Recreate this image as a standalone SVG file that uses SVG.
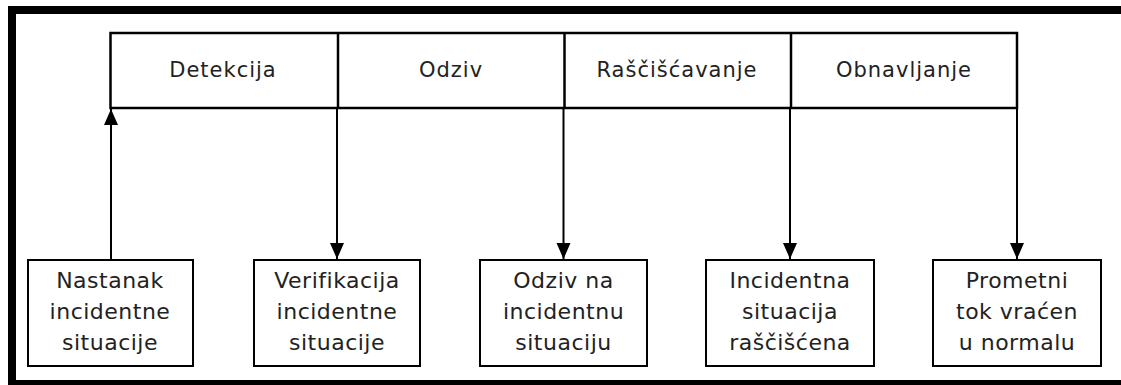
<svg xmlns="http://www.w3.org/2000/svg" width="1121" height="385" viewBox="0 0 1121 385">
  <style>
    .frame { fill: none; stroke: #000; stroke-width: 8; }
    .phase { fill: none; stroke: #000; stroke-width: 2.5; }
    .box { fill: #fff; stroke: #000; stroke-width: 2; }
    .link { fill: none; stroke: #000; stroke-width: 2; }
    text { font-family: "DejaVu Sans", Verdana, sans-serif; fill: #222; text-anchor: middle; }
    .lbl { font-size: 21px; letter-spacing: 1px; }
    .txt { font-size: 22px; letter-spacing: 0.5px; }
  </style>
  <defs>
    <marker id="arrow" viewBox="0 0 16 16" refX="16" refY="8" markerWidth="16" markerHeight="16" markerUnits="userSpaceOnUse" orient="auto">
      <path d="M0,1 L16,8 L0,15 Z" fill="#000"/>
    </marker>
  </defs>

  <rect width="1121" height="385" fill="#fff"/>
  <!-- outer frame: top, left and bottom edges -->
  <path class="frame" d="M1125,10 H12 V384 H1125"/>

  <!-- phase strip -->
  <g id="phases">
    <rect class="phase" x="110.5" y="33" width="906.5" height="75"/>
    <line class="phase" x1="338" y1="33" x2="338" y2="108"/>
    <line class="phase" x1="564.5" y1="33" x2="564.5" y2="108"/>
    <line class="phase" x1="791" y1="33" x2="791" y2="108"/>
    <text class="lbl" x="223" y="77">Detekcija</text>
    <text class="lbl" x="451" y="77">Odziv</text>
    <text class="lbl" x="677" y="77">Raščišćavanje</text>
    <text class="lbl" x="904" y="77">Obnavljanje</text>
  </g>

  <!-- connectors -->
  <g id="connectors">
    <line class="link" x1="111" y1="259" x2="111" y2="109" marker-end="url(#arrow)"/>
    <line class="link" x1="337" y1="109" x2="337" y2="259" marker-end="url(#arrow)"/>
    <line class="link" x1="563.5" y1="109" x2="563.5" y2="259" marker-end="url(#arrow)"/>
    <line class="link" x1="790" y1="109" x2="790" y2="259" marker-end="url(#arrow)"/>
    <line class="link" x1="1017" y1="109" x2="1017" y2="259" marker-end="url(#arrow)"/>
  </g>

  <!-- events -->
  <g id="event-nastanak">
    <rect class="box" x="28" y="260" width="165" height="106"/>
    <text class="txt" x="110" y="288">Nastanak</text>
    <text class="txt" x="110" y="319">incidentne</text>
    <text class="txt" x="110" y="350">situacije</text>
  </g>
  <g id="event-verifikacija">
    <rect class="box" x="254" y="260" width="166" height="106"/>
    <text class="txt" x="337" y="288">Verifikacija</text>
    <text class="txt" x="337" y="319">incidentne</text>
    <text class="txt" x="337" y="350">situacije</text>
  </g>
  <g id="event-odziv">
    <rect class="box" x="480" y="260" width="167" height="106"/>
    <text class="txt" x="563.5" y="288">Odziv na</text>
    <text class="txt" x="563.5" y="319">incidentnu</text>
    <text class="txt" x="563.5" y="350">situaciju</text>
  </g>
  <g id="event-rasciscena">
    <rect class="box" x="706" y="260" width="168" height="106"/>
    <text class="txt" x="790" y="288">Incidentna</text>
    <text class="txt" x="790" y="319">situacija</text>
    <text class="txt" x="790" y="350">raščišćena</text>
  </g>
  <g id="event-normala">
    <rect class="box" x="933" y="260" width="168" height="106"/>
    <text class="txt" x="1017" y="288">Prometni</text>
    <text class="txt" x="1017" y="319">tok vraćen</text>
    <text class="txt" x="1017" y="350">u normalu</text>
  </g>
</svg>
